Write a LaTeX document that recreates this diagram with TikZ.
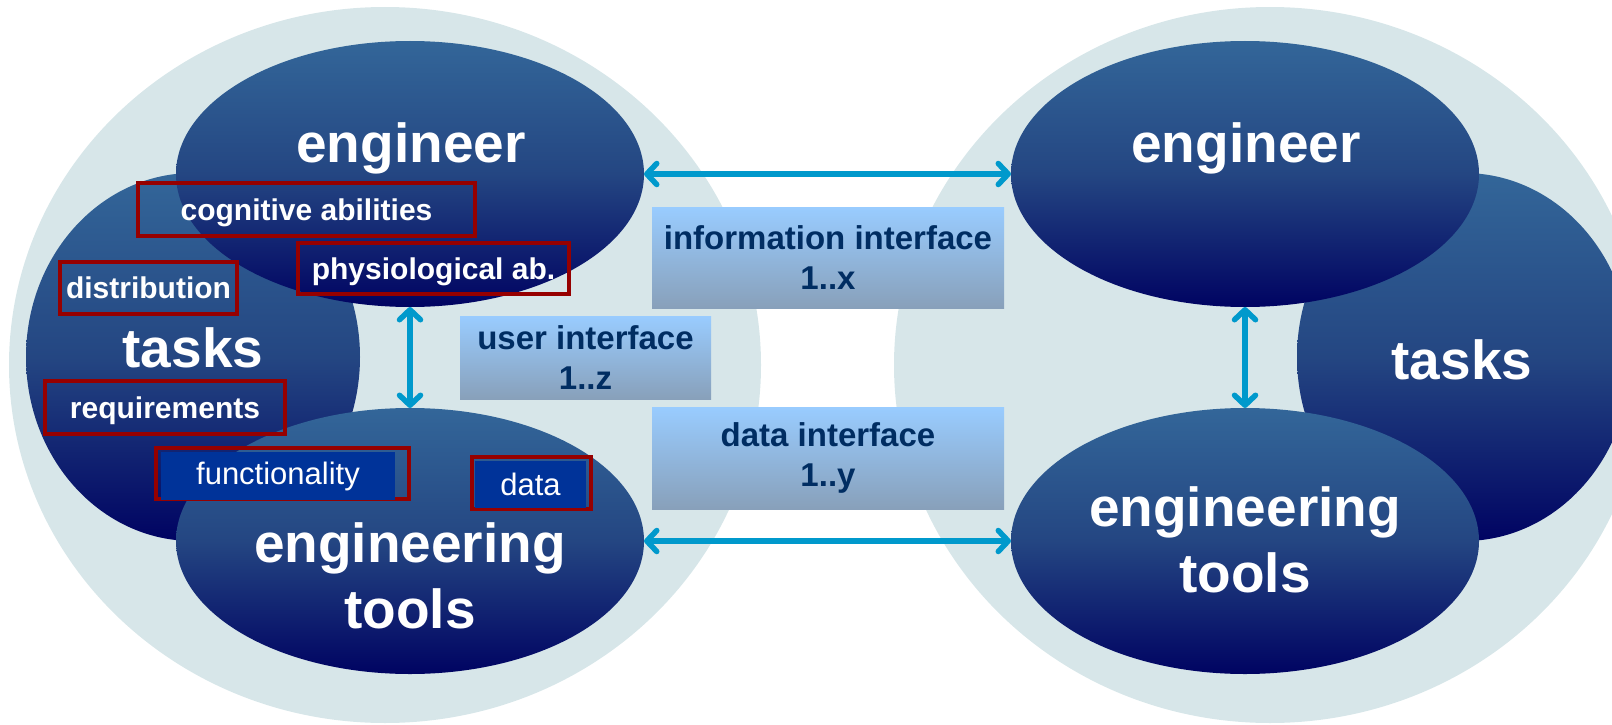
\documentclass[tikz,border=0pt]{standalone}
\usepackage{fontspec}
\setmainfont{Liberation Sans}
\usetikzlibrary{shapes.geometric,arrows.meta}

\definecolor{halo}{RGB}{215,230,233}
\definecolor{blobtop}{RGB}{51,102,153}
\definecolor{blobmid}{RGB}{36,70,130}
\definecolor{blobbot}{RGB}{0,3,98}
\definecolor{ifacetop}{RGB}{153,204,255}
\definecolor{ifacebot}{RGB}{136,160,186}
\definecolor{ifacetext}{RGB}{0,45,98}
\definecolor{tagred}{RGB}{150,0,0}
\definecolor{tagblue}{RGB}{0,51,153}
\definecolor{linkblue}{RGB}{0,153,204}

\begin{document}
\begin{tikzpicture}[x=1pt,y=-1pt,
  halobg/.style={ellipse, fill=halo, inner sep=0pt, outer sep=0pt,
    minimum width=752pt, minimum height=716pt},
  blob/.style={ellipse, inner sep=0pt, outer sep=0pt,
    top color=blobtop, bottom color=blobbot, middle color=blobmid},
  roleblob/.style={blob, minimum width=468pt, minimum height=266pt},
  taskblob/.style={blob, minimum width=334pt, minimum height=368pt},
  bigtxt/.style={text=white, align=center, inner sep=0pt,
    font=\fontsize{55}{66}\selectfont\bfseries},
  iface/.style={rectangle, inner sep=0pt, outer sep=0pt,
    top color=ifacetop, bottom color=ifacebot, text=ifacetext, align=center,
    font=\fontsize{33}{40}\selectfont\bfseries},
  tag/.style={rectangle, draw=tagred, line width=3.5pt, inner sep=0pt,
    text height=21pt, text depth=0pt,
    text=white, font=\fontsize{30}{36}\selectfont\bfseries},
  tagframe/.style={rectangle, draw=tagred, line width=3.5pt, inner sep=0pt},
  tagfill/.style={rectangle, fill=tagblue, inner sep=0pt, text=white,
    font=\fontsize{31}{36}\selectfont},
  link/.style={draw=linkblue, line width=5.5pt,
    {Straight Barb[round,length=10pt,width=21pt]}-{Straight Barb[round,length=10pt,width=21pt]}}
]
\useasboundingbox (0,0) rectangle (1612,725);
\clip (0,0) rectangle (1612,725);

% background halos of the two sides
\node[halobg] (bgL) at (385,365) {};
\node[halobg] (bgR) at (1270,365) {};

% left side: tasks behind engineer and tools
\node[taskblob] (taskL) at (193,357) {};
\node[roleblob] (engL) at (410,174) {};
\node[roleblob] (toolL) at (410,541) {};

% right side
\node[taskblob] (taskR) at (1464,357) {};
\node[roleblob] (engR) at (1245,174) {};
\node[roleblob] (toolR) at (1245,541) {};

% main labels
\node[bigtxt, anchor=base] (engLtxt) at (411,162) {engineer};
\node[bigtxt, anchor=base] (taskLtxt) at (193,367) {tasks};
\node[bigtxt] (toolLtxt) at (410,576) {engineering\\tools};
\node[bigtxt, anchor=base] (engRtxt) at (1246,162) {engineer};
\node[bigtxt, anchor=base] (taskRtxt) at (1462,379) {tasks};
\node[bigtxt] (toolRtxt) at (1245,540) {engineering\\tools};

% attribute tags
\node[tag, minimum width=337pt, minimum height=53pt] (cog) at (306.5,209.5) {cognitive abilities};
\node[tag, minimum width=271pt, minimum height=51pt] (phys) at (433.5,268.5) {physiological ab.};
\node[tag, minimum width=177pt, minimum height=52pt] (dist) at (148.5,288) {distribution};
\node[tag, minimum width=240pt, minimum height=53pt] (req) at (165,407.5) {requirements};
\node[tagframe, minimum width=253pt, minimum height=51pt] (funcFrame) at (282.5,473.5) {};
\node[tagfill, minimum width=234pt, minimum height=48pt] (func) at (278,476) {functionality};
\node[tagframe, minimum width=119pt, minimum height=52pt] (dataFrame) at (531.5,483) {};
\node[tagfill, minimum width=111pt, minimum height=47pt] (data) at (530.5,484.5) {data};

% interfaces
\node[iface, minimum width=352pt, minimum height=101pt] (info) at (828,257.5) {information interface\\1..x};
\node[iface, minimum width=352pt, minimum height=102pt] (dataif) at (828,458) {data interface\\1..y};
\node[iface, minimum width=251pt, minimum height=83pt] (user) at (585.5,357.5) {user interface\\1..z};

% connectors
\draw[link] (engL.east) -- (engR.west);
\draw[link] (toolL.east) -- (toolR.west);
\draw[link] (engL.south) -- (toolL.north);
\draw[link] (engR.south) -- (toolR.north);
\end{tikzpicture}
\end{document}
